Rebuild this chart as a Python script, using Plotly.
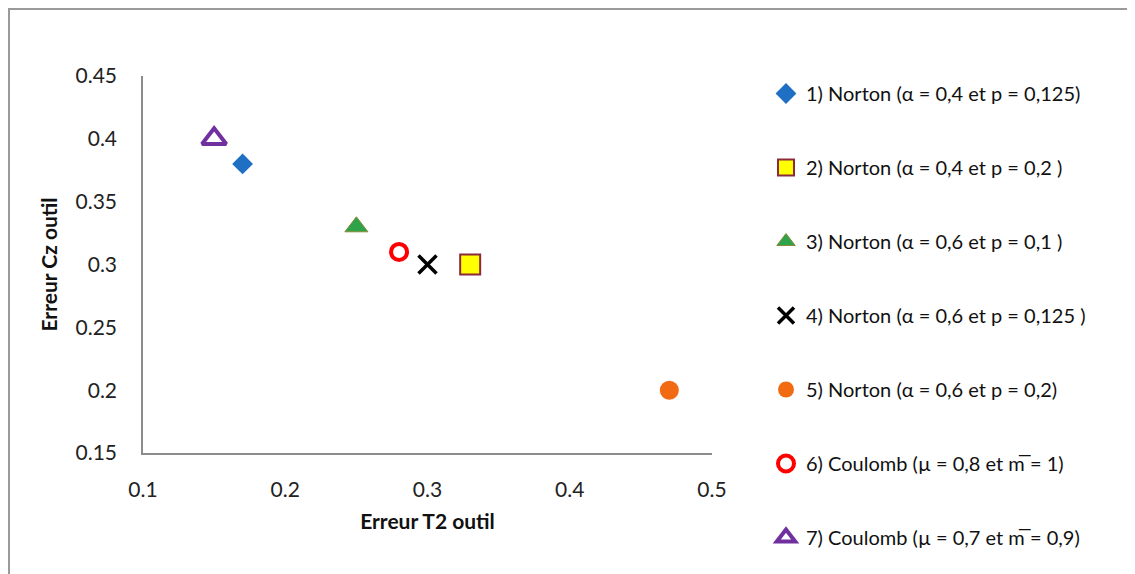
import plotly.graph_objects as go

names = [
    "1) Norton (α = 0,4 et p = 0,125)",
    "2) Norton (α = 0,4 et p = 0,2 )",
    "3) Norton (α = 0,6 et p = 0,1 )",
    "4) Norton (α = 0,6 et p = 0,125 )",
    "5) Norton (α = 0,6 et p = 0,2)",
    "6) Coulomb (µ = 0,8 et m̅ = 1)",
    "7) Coulomb (µ = 0,7 et m̅ = 0,9)",
]
erreur_t2 = [0.17, 0.33, 0.25, 0.30, 0.47, 0.28, 0.15]
erreur_cz = [0.38, 0.30, 0.33, 0.30, 0.20, 0.31, 0.40]

symbols = ["diamond", "square", "triangle-up", "x-thin-open", "circle", "circle-open", "triangle-up-open"]
fills = ["#1f6fc4", "#ffff00", "#2ea34a", "#000000", "#f26b12", "#ff0000", "#7030a0"]
lines = ["#1f6fc4", "#8b2a3a", "#8a8a3a", "#000000", "#f26b12", "#ff0000", "#7030a0"]
widths = [0, 2, 1, 3.5, 0, 4, 4]
sizes = [16, 20, 20, 18, 19, 16, 21]

FONT = "Lato, Calibri, sans-serif"

fig = go.Figure()
for i in range(len(names)):
    fig.add_trace(go.Scatter(
        x=[erreur_t2[i]], y=[erreur_cz[i]], mode="markers", name=names[i],
        legendgroup=str(i),
        marker=dict(symbol=symbols[i], color=fills[i], size=sizes[i],
                    line=dict(color=lines[i], width=widths[i])),
    ))

# figure pixel coordinates (page is offset by ~8px)
L, R, T, B = 135, 704, 68, 445
W, H = 1135, 574
pw, ph = R - L, B - T

def px(p):
    return (p - L) / pw

def py(p):
    return (B - p) / ph

fig.update_layout(
    width=W, height=H,
    margin=dict(l=L, r=W - R, t=T, b=H - B, autoexpand=False),
    paper_bgcolor="white", plot_bgcolor="white",
    font=dict(family=FONT, size=21, color="#222222"),
    showlegend=True,
    legend=dict(x=px(758), y=py(66), xanchor="left", yanchor="top",
                font=dict(family=FONT, size=20, color="#111111"),
                traceorder="grouped", tracegroupgap=45, itemwidth=30,
                maxheight=570, bgcolor="rgba(0,0,0,0)"),
    xaxis=dict(range=[0.1, 0.5], tickvals=[0.1, 0.2, 0.3, 0.4, 0.5],
               ticktext=["0.1", "0.2", "0.3", "0.4", "0.5"],
               showgrid=False, zeroline=False, showline=True,
               linecolor="#8c8c8c", linewidth=1.5, ticks="",
               ticklabelstandoff=17, automargin=False,
               title=dict(text="<b>Erreur T2 outil</b>", standoff=14,
                          font=dict(family=FONT, size=21, color="#111111"))),
    yaxis=dict(range=[0.15, 0.45], tickvals=[0.15, 0.2, 0.25, 0.3, 0.35, 0.4, 0.45],
               ticktext=["0.15", "0.2", "0.25", "0.3", "0.35", "0.4", "0.45"],
               showgrid=False, zeroline=False, showline=True,
               linecolor="#8c8c8c", linewidth=1.5, ticks="",
               ticklabelstandoff=20, automargin=False,
               title=dict(text="<b>Erreur Cz outil</b>", standoff=12,
                          font=dict(family=FONT, size=21, color="#111111"))),
    shapes=[dict(type="rect", xref="paper", yref="paper",
                 x0=px(1), x1=px(1145), y0=py(590), y1=py(1),
                 line=dict(color="#9a9a9a", width=2), layer="below")],
)

fig.write_html("out.html")
